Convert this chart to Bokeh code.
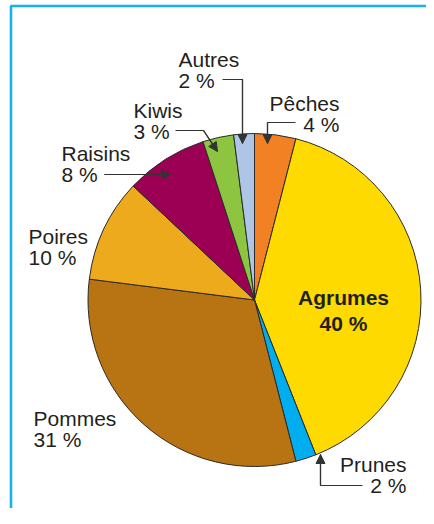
import math
from bokeh.plotting import figure
from bokeh.models import Range1d, Arrow, NormalHead
from bokeh.core.properties import value
from bokeh.embed import file_html
from bokeh.resources import INLINE

# ---- data ----
fruits = ["Pêches", "Agrumes", "Prunes", "Pommes", "Poires", "Raisins", "Kiwis", "Autres"]
percents = [4, 40, 2, 31, 10, 8, 3, 2]
colors = ["#F28123", "#FFDA00", "#00AEEF", "#B87412", "#EDAA1C", "#9C0055", "#8DC540", "#AFC5E6"]

W, H = 426, 508
REF_H = 524
TOP = 8  # vertical offset of the figure in the picture


def Y(py):
    return REF_H - py


p = figure(width=W, height=H, x_range=Range1d(0, W), y_range=Range1d(REF_H - TOP - H, REF_H - TOP),
           output_backend="svg", toolbar_location=None, min_border=0)
p.axis.visible = False
p.grid.visible = False
p.outline_line_color = None
p.background_fill_color = "white"
p.border_fill_color = "white"

FONT = value("Liberation Sans")
TXT = "#231F20"

# frame (extends beyond visible area)
p.line(x=[10.5, 10.5, 460], y=[Y(540), Y(13.5), Y(13.5)], line_color="#1AB0EC", line_width=2.6)

# pie
cx, cy, r = 254, Y(307.5), 166.5
total = sum(percents)
starts, ends = [], []
cum = 0
for v in percents:
    starts.append(math.radians(90 - cum / total * 360))
    cum += v
    ends.append(math.radians(90 - cum / total * 360))
p.wedge(x=[cx] * len(fruits), y=[cy] * len(fruits), radius=r, start_angle=starts, end_angle=ends,
        direction="clock", fill_color=colors, line_color="#2a2a2a", line_width=1)

# label layout: name -> (x, baseline1, baseline2, align, bold)
layout = {
    "Autres": (178, 67, 88, "left", False),
    "Pêches": (339, 111, 132, "right", False),
    "Kiwis": (133, 118, 139, "left", False),
    "Raisins": (61, 161, 182, "left", False),
    "Poires": (28, 244, 265, "left", False),
    "Pommes": (33, 426, 447, "left", False),
    "Agrumes": (343, 305, 331, "center", True),
    "Prunes": (406, 472, 493, "right", False),
}
for name, pct in zip(fruits, percents):
    x, b1, b2, al, bold = layout[name]
    p.text(x=[x, x], y=[Y(b1), Y(b2)], text=[name, f"{pct} %"], text_font=FONT,
           text_font_size="21px",
           text_font_style="bold" if bold else "normal",
           text_color=TXT, text_align=al, text_baseline="alphabetic")

# leader lines with arrow heads (reference pixel coords)
leaders = [
    [(222, 87), (242, 87), (242, 151)],
    [(295, 130), (267, 130), (267, 151)],
    [(175, 138), (203, 138), (217, 159)],
    [(104, 182), (170, 182)],
    [(362, 493), (320, 493), (320, 462)],
]
LC = "#333333"
for pts in leaders:
    xs = [q[0] for q in pts]
    ys = [Y(q[1]) for q in pts]
    p.line(x=xs, y=ys, line_color=LC, line_width=1.2)
    p.add_layout(Arrow(end=NormalHead(size=9, fill_color=LC, line_color=LC, line_width=1),
                       x_start=xs[-2], y_start=ys[-2], x_end=xs[-1], y_end=ys[-1],
                       line_color=LC, line_width=1.2))

open("out.html", "w").write(file_html(p, INLINE))
